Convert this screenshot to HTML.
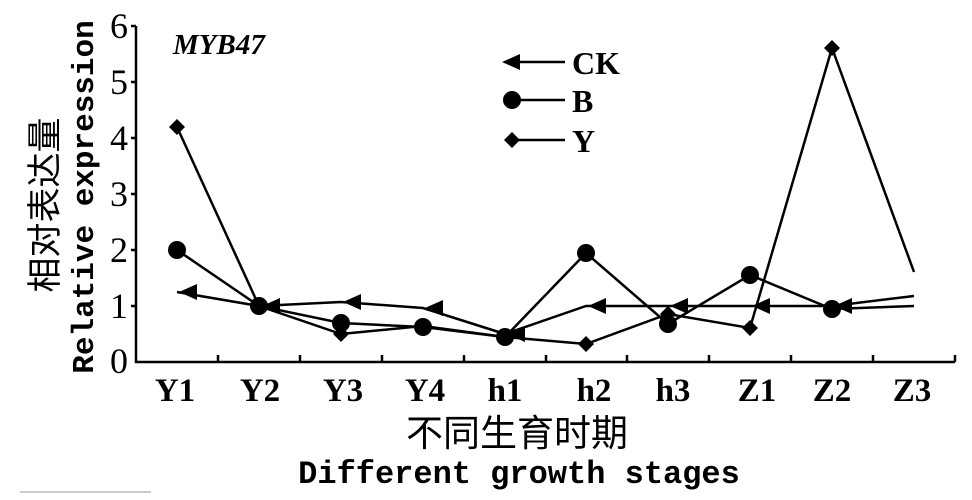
<!DOCTYPE html>
<html><head><meta charset="utf-8"><style>
html,body{margin:0;padding:0;background:#fff;width:972px;height:500px;overflow:hidden}
</style></head><body>
<svg width="972" height="500" viewBox="0 0 972 500" xmlns="http://www.w3.org/2000/svg">
<defs>
<g id="tri"><polygon points="0,0 18,-8 18,8" fill="#000"/></g>
<g id="dia"><polygon points="0,-8 8,0 0,8 -8,0" fill="#000"/></g>
</defs>
<g stroke="#000" stroke-width="2.5" fill="none">
<polyline points="136,26 136,362 955,362"/>
<line x1="131" y1="26" x2="136" y2="26"/><line x1="131" y1="82" x2="136" y2="82"/>
<line x1="131" y1="138" x2="136" y2="138"/><line x1="131" y1="194" x2="136" y2="194"/>
<line x1="131" y1="250" x2="136" y2="250"/><line x1="131" y1="306" x2="136" y2="306"/>
<line x1="218" y1="362" x2="218" y2="355"/><line x1="300" y1="362" x2="300" y2="355"/>
<line x1="382" y1="362" x2="382" y2="355"/><line x1="464" y1="362" x2="464" y2="355"/>
<line x1="546" y1="362" x2="546" y2="355"/><line x1="627" y1="362" x2="627" y2="355"/>
<line x1="709" y1="362" x2="709" y2="355"/><line x1="791" y1="362" x2="791" y2="355"/>
<line x1="873" y1="362" x2="873" y2="355"/><line x1="955" y1="362" x2="955" y2="355"/>
<polyline points="177,127 259,306 341,334 423,326 505,337 586,344 668,314 750,328 832,48 914,272"/>
<polyline points="177,250 259,306 341,323 423,327 505,337 586,253 668,324 750,275 832,309 914,306"/>
<polyline points="177,292 259,306 341,302 423,308 505,334 586,306 668,306 750,306 832,306 914,296"/>
<line x1="510" y1="62" x2="565" y2="62"/><line x1="512" y1="100" x2="565" y2="100"/><line x1="512" y1="140" x2="565" y2="140"/>
</g>
<g fill="#000">
<use href="#dia" x="177" y="127"/><use href="#dia" x="259" y="306"/><use href="#dia" x="341" y="334"/><use href="#dia" x="423" y="326"/><use href="#dia" x="505" y="337"/><use href="#dia" x="586" y="344"/><use href="#dia" x="668" y="314"/><use href="#dia" x="750" y="328"/><use href="#dia" x="832" y="48"/>
<circle cx="177" cy="250" r="9"/><circle cx="259" cy="306" r="9"/><circle cx="341" cy="323" r="9"/><circle cx="423" cy="327" r="9"/><circle cx="505" cy="337" r="9"/><circle cx="586" cy="253" r="9"/><circle cx="668" cy="324" r="9"/><circle cx="750" cy="275" r="9"/><circle cx="832" cy="309" r="9"/>
<use href="#tri" x="179" y="292"/><use href="#tri" x="262" y="306"/><use href="#tri" x="343" y="302"/><use href="#tri" x="425" y="308"/><use href="#tri" x="507" y="334"/><use href="#tri" x="588" y="306"/><use href="#tri" x="670" y="306"/><use href="#tri" x="752" y="306"/><use href="#tri" x="834" y="306"/>
<use href="#tri" x="502" y="62"/><circle cx="512" cy="100" r="9"/><use href="#dia" x="512" y="140"/>
</g>
<g font-family="'Liberation Serif',serif" font-size="36" fill="#000" text-anchor="end">
<text x="128" y="38">6</text><text x="128" y="94">5</text><text x="128" y="150">4</text>
<text x="128" y="206">3</text><text x="128" y="262">2</text><text x="128" y="318">1</text><text x="128" y="373">0</text>
</g>
<g font-family="'Liberation Serif',serif" font-size="33" font-weight="bold" fill="#000" text-anchor="middle">
<text x="175" y="401">Y1</text><text x="260" y="401">Y2</text><text x="343" y="401">Y3</text><text x="425" y="401">Y4</text>
<text x="505" y="401">h1</text><text x="594" y="401">h2</text><text x="673" y="401">h3</text><text x="757" y="401">Z1</text>
<text x="832" y="401">Z2</text><text x="912" y="401">Z3</text>
</g>
<g font-family="'Liberation Serif',serif" font-size="32" font-weight="bold" fill="#000">
<text x="572" y="74">CK</text><text x="572" y="112">B</text><text x="572" y="152">Y</text>
</g>
<text x="173" y="54" font-family="'Liberation Serif',serif" font-style="italic" font-weight="bold" font-size="29" fill="#000">MYB47</text>
<text x="517" y="446" text-anchor="middle" font-family="'Liberation Sans','Noto Sans CJK SC',sans-serif" font-size="37" fill="#000">不同生育时期</text>
<text x="519" y="483" text-anchor="middle" font-family="'Liberation Mono',monospace" font-size="32" font-weight="bold" fill="#000">Different growth stages</text>
<text transform="translate(57,205) rotate(-90)" text-anchor="middle" font-family="'Liberation Sans','Noto Sans CJK SC',sans-serif" font-size="35" fill="#000">相对表达量</text>
<text transform="translate(93,197) rotate(-90)" text-anchor="middle" font-family="'Liberation Mono',monospace" font-size="31" font-weight="bold" fill="#000">Relative expression</text>
<rect x="20" y="491" width="131" height="2" fill="#ccc"/>
</svg>
</body></html>
